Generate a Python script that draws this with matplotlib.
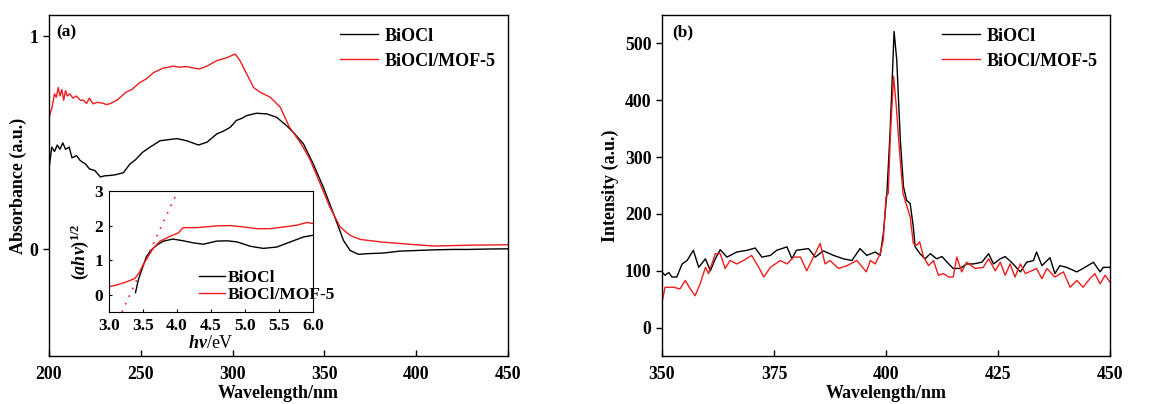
import matplotlib
matplotlib.use("Agg")
import matplotlib.pyplot as plt

plt.rcParams['font.family'] = ['Liberation Serif', 'DejaVu Serif']
plt.rcParams['font.weight'] = 'bold'
plt.rcParams['mathtext.fontset'] = 'custom'
plt.rcParams['mathtext.rm'] = 'Liberation Serif:bold'
plt.rcParams['mathtext.it'] = 'Liberation Serif:italic:bold'
plt.rcParams['mathtext.bf'] = 'Liberation Serif:bold'

# (a) UV-vis absorbance
abs_x_black = [200, 201.5, 203, 204.5, 206, 207.5, 209, 211, 212.5, 215, 217, 220, 222, 225, 228,
               230, 233, 236, 240.5, 244, 247, 251, 255, 260.5, 265, 269.6, 275, 281.4, 286,
               291.4, 295, 298.7, 302, 305, 307.7, 313, 318.6, 324, 329.5, 333, 338.6, 344,
               349.5, 355, 360.4, 364, 368.6, 373, 382, 391, 400, 409.5, 420, 427.7, 440, 450]
abs_y_black = [0.378, 0.48, 0.46, 0.49, 0.47, 0.50, 0.47, 0.48, 0.43, 0.44, 0.417, 0.40, 0.378, 0.37, 0.34,
               0.345, 0.347, 0.35, 0.36, 0.40, 0.42, 0.456, 0.48, 0.51, 0.515, 0.52, 0.51, 0.49, 0.503,
               0.542, 0.555, 0.573, 0.605, 0.615, 0.628, 0.639, 0.636, 0.62, 0.58, 0.55, 0.495, 0.40,
               0.29, 0.167, 0.042, -0.005, -0.023, -0.02, -0.017, -0.008, -0.005, -0.002, 0.0, 0.0, 0.002, 0.003]

abs_x_red = [200, 201.5, 203, 204, 205, 206, 207, 208, 209, 210, 211.4, 213, 215, 217, 218.7, 220.5,
             222, 224, 226, 229.6, 231, 233, 237, 242, 245, 249.6, 253, 257, 262, 267.8, 271, 275,
             278, 282, 286, 291.4, 297, 301.4, 304, 307.7, 311.4, 315, 320.5, 326, 331, 336.8,
             342, 347.7, 353, 358.6, 364, 369.5, 382, 400, 409.5, 430, 450]
abs_y_red = [0.62, 0.66, 0.73, 0.714, 0.76, 0.72, 0.75, 0.70, 0.745, 0.72, 0.73, 0.71, 0.72, 0.70, 0.70, 0.685,
             0.71, 0.683, 0.69, 0.686, 0.68, 0.683, 0.70, 0.738, 0.75, 0.784, 0.80, 0.83, 0.85, 0.86, 0.855, 0.858,
             0.852, 0.847, 0.86, 0.886, 0.90, 0.917, 0.886, 0.823, 0.76, 0.738, 0.714, 0.667, 0.573, 0.503,
             0.425, 0.308, 0.198, 0.105, 0.066, 0.047, 0.034, 0.022, 0.016, 0.02, 0.022]

# inset: Tauc plot
tauc_x_black = [3.39, 3.43, 3.48, 3.55, 3.62, 3.70, 3.80, 3.94, 4.09, 4.24, 4.39, 4.58, 4.73, 4.88,
                5.08, 5.27, 5.47, 5.67, 5.86, 6.0]
tauc_y_black = [0.06, 0.42, 0.71, 1.10, 1.29, 1.43, 1.55, 1.61, 1.56, 1.50, 1.46, 1.55, 1.56, 1.53,
                1.40, 1.34, 1.38, 1.53, 1.67, 1.72]
tauc_x_red = [3.0, 3.11, 3.26, 3.38, 3.44, 3.50, 3.58, 3.65, 3.75, 3.90, 4.02, 4.09, 4.29, 4.58, 4.78,
              4.98, 5.17, 5.37, 5.57, 5.76, 5.91, 6.0]
tauc_y_red = [0.23, 0.28, 0.375, 0.47, 0.62, 0.86, 1.12, 1.34, 1.55, 1.69, 1.79, 1.94, 1.94, 1.99, 2.0,
              1.96, 1.91, 1.91, 1.96, 2.01, 2.09, 2.06]
tangent_x = [3.19, 4.01]
tangent_y = [-0.5, 3.0]

# (b) PL spectra
pl_x_black = [350, 350.7, 351.5, 352.2, 353.3, 354.5, 355.6, 357, 358.2, 359.7, 360.8, 361.9, 363, 364.5,
              366.7, 369, 370.8, 372.3, 374.2, 375.6, 377.9, 379, 380, 382.7, 384.2, 386, 388.3, 390.5,
              392.4, 394.2, 395.7, 397.6, 398.7, 399.4, 400.2, 400.9, 401.5, 401.8, 402.4, 403.2, 403.9,
              404.6, 405.4, 406.1, 406.5, 407.6, 408.7, 409.9, 411.3, 412.5, 414, 415, 416.5, 418, 419.5,
              421.4, 422.9, 424, 425.5, 426.6, 428, 430, 431.4, 432.9, 433.6, 434.8, 436.6, 437.7, 438.8,
              440.3, 442.6, 444.4, 446.3, 447.8, 448.5, 450]
pl_y_black = [97.6, 92, 97, 89, 89, 112, 118, 136, 106, 121, 100, 121, 137, 124,
              133, 136, 140, 124, 127, 136, 142, 121, 136, 139, 124, 135, 127, 121,
              118, 139, 127, 133, 127, 165, 236, 342, 459, 521, 471, 330, 248,
              224, 218, 177, 142, 130, 121, 130, 121, 125, 112, 104, 104, 112, 112,
              115, 130, 112, 121, 125, 115, 98, 115, 118, 133, 109, 123, 95, 109,
              106, 98, 106, 115, 98, 106, 106]

pl_x_red = [350, 350.7, 352.6, 354, 355.2, 356.3, 357.4, 358.5, 359.7, 360.4, 361.9, 363, 364.1, 365.2,
            366.7, 368.2, 370, 371.6, 372.7, 374.2, 376.4, 377.9, 379.4, 380.9, 382.3, 383.8, 385.3,
            386.4, 387.5, 389.4, 391.3, 393.5, 395.6, 396.5, 397.6, 398.7, 399.4, 400, 400.5, 401,
            401.7, 402.3, 403, 403.8, 404.6, 405.4, 406.1, 406.9, 407.5, 408.4, 409.5, 410.6, 411.7,
            412.8, 414, 415, 415.8, 416.9, 418, 419.9, 421.7, 422.9, 424.4, 425.5, 426.6, 427.7,
            428.8, 430, 431.1, 433.6, 434.8, 435.9, 437.7, 439.6, 441.1, 442.6, 444, 445.5, 446.6,
            447.8, 448.9, 450]
pl_y_red = [45, 71, 71, 68, 83, 68, 56, 77, 106, 95, 130, 130, 104, 118,
            112, 118, 127, 106, 89, 106, 118, 112, 124, 124, 100, 124, 148,
            112, 118, 104, 109, 118, 98, 118, 112, 130, 154, 230, 236, 342,
            442, 389, 312, 236, 215, 195, 148, 145, 151, 124, 109, 118, 92,
            95, 89, 89, 124, 98, 115, 104, 106, 121, 100, 115, 92, 112,
            89, 112, 95, 104, 86, 104, 89, 98, 71, 83, 71, 86, 95,
            77, 92, 80]

W, H = 1173, 404
fig = plt.figure(figsize=(W / 100, H / 100), dpi=100)


def px_axes(l, t, r, b):
    return fig.add_axes([l / W, 1 - b / H, (r - l) / W, (b - t) / H])


def style(ax, size=12.8):
    for s in ax.spines.values():
        s.set_linewidth(1.0)
    ax.tick_params(axis='x', direction='in', length=4, width=1, labelsize=size, pad=7)
    ax.tick_params(axis='y', direction='out', length=4, width=1, labelsize=size)
    for lab in ax.get_xticklabels() + ax.get_yticklabels():
        lab.set_fontweight('bold')


leg_prop = {'weight': 'bold', 'size': 13}

# panel (a)
ax1 = px_axes(49, 15, 508, 356)
ax1.plot(abs_x_black, abs_y_black, color='black', lw=1.0, label='BiOCl')
ax1.plot(abs_x_red, abs_y_red, color='#ee1c1c', lw=1.0, label='BiOCl/MOF-5')
ax1.set_xlim(200, 450)
ax1.set_ylim(-0.5, 1.1)
ax1.set_xticks([200, 250, 300, 350, 400, 450])
ax1.set_yticks([0, 1])
style(ax1)
ax1.set_xlabel('Wavelength/nm', fontsize=13, fontweight='bold', labelpad=2)
ax1.set_ylabel('Absorbance (a.u.)', fontsize=13, fontweight='bold', labelpad=2)
ax1.text(0.015, 0.95, '(a)', transform=ax1.transAxes, fontsize=12.5, fontweight='bold', va='center')
ax1.legend(loc='upper right', bbox_to_anchor=(1.0, 1.0), frameon=False,
           prop=leg_prop, handlelength=2.1, handletextpad=0.35,
           labelspacing=0.45, borderaxespad=0.3)

# inset
ins = px_axes(109, 191, 313, 312)
ins.plot(tauc_x_black, tauc_y_black, color='black', lw=1.0, label='BiOCl')
ins.plot(tauc_x_red, tauc_y_red, color='#ee1c1c', lw=1.0, label='BiOCl/MOF-5')
ins.plot(tangent_x, tangent_y, color='#ee1c1c', lw=1.2, ls=(0, (1, 4)))
ins.set_xlim(3.0, 6.0)
ins.set_ylim(-0.5, 3.0)
ins.set_xticks([3.0, 3.5, 4.0, 4.5, 5.0, 5.5, 6.0])
ins.set_yticks([0, 1, 2, 3])
ins.tick_params(axis='both', direction='in', length=2, width=0.8, labelsize=12.5, pad=4)
for lab in ins.get_xticklabels() + ins.get_yticklabels():
    lab.set_fontweight('bold')
ins.set_xlabel(r'$\mathit{hv}$/eV', fontsize=13, labelpad=1)
ins.set_ylabel(r'$(\mathit{ahv})^{1/2}$', fontsize=13, labelpad=3)
ins.legend(loc='lower left', bbox_to_anchor=(0.40, 0.0), frameon=False,
           prop={'weight': 'bold', 'size': 12.5}, handlelength=1.5, handletextpad=0.15,
           labelspacing=0.05, borderaxespad=0.1)

# panel (b)
ax2 = px_axes(662, 15, 1110, 356)
ax2.plot(pl_x_black, pl_y_black, color='black', lw=1.0, label='BiOCl')
ax2.plot(pl_x_red, pl_y_red, color='#ee1c1c', lw=1.0, label='BiOCl/MOF-5')
ax2.set_xlim(350, 450)
ax2.set_ylim(-50, 550)
ax2.set_xticks([350, 375, 400, 425, 450])
ax2.set_yticks([0, 100, 200, 300, 400, 500])
style(ax2)
ax2.set_xlabel('Wavelength/nm', fontsize=13, fontweight='bold', labelpad=2)
ax2.set_ylabel('Intensity (a.u.)', fontsize=13, fontweight='bold', labelpad=4)
ax2.text(0.022, 0.95, '(b)', transform=ax2.transAxes, fontsize=12.5, fontweight='bold', va='center')
ax2.legend(loc='upper right', bbox_to_anchor=(1.0, 1.0), frameon=False,
           prop=leg_prop, handlelength=2.1, handletextpad=0.35,
           labelspacing=0.45, borderaxespad=0.3)

fig.savefig('out.png', dpi=100)
